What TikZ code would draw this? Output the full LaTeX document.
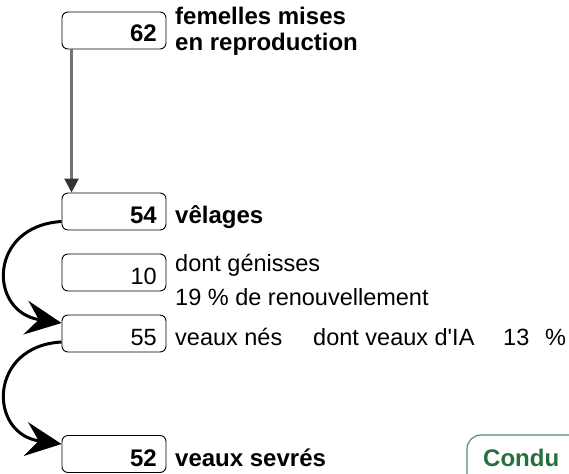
\documentclass[tikz,border=0pt]{standalone}
\usepackage{fontspec}
\setmainfont{Liberation Sans}
\usetikzlibrary{arrows.meta}
\definecolor{condtext}{RGB}{38,112,62}
\definecolor{condline}{RGB}{80,145,100}
\tikzset{
  box/.style={draw=black, line width=0.9pt, rounded corners=6pt, minimum width=104pt, minimum height=37pt, inner sep=0pt, fill=white},
  numb/.style={anchor=base east, inner sep=0pt, font=\fontsize{24}{27}\selectfont\bfseries},
  numr/.style={anchor=base east, inner sep=0pt, font=\fontsize{23.5}{26}\selectfont},
  lblb/.style={anchor=base west, inner sep=0pt, font=\fontsize{24}{27}\selectfont\bfseries},
  lblr/.style={anchor=base west, inner sep=0pt, font=\fontsize{23.5}{26}\selectfont},
  flow/.style={draw=black!55, line width=2.4pt, -{Triangle[width=14pt,length=14pt,color=black!80]}},
  curl/.style={draw=black, line width=3pt, -{Stealth[length=36pt,width=34pt,inset=13pt]}},
}
\begin{document}
\begin{tikzpicture}[x=1pt,y=-1pt]
\useasboundingbox (0,0) rectangle (569,473);
\fill[white] (0,0) rectangle (569,473);
\clip (0,0) rectangle (569,473);

% boxes
\node[box] (b62) at (114,30.5) {};
\node[box] (b54) at (114,211.5) {};
\node[box] (b10) at (114,272.5) {};
\node[box] (b55) at (114,333.5) {};
\node[box] (b52) at (114,454) {};

% numbers
\node[numb] (n62) at (157,42) {62};
\node[numb] (n54) at (157,223) {54};
\node[numr] (n10) at (157,284) {10};
\node[numr] (n55) at (157,345) {55};
\node[numb] (n52) at (157,466) {52};

% labels
\node[lblb] (l62a) at (175,25) {femelles mises};
\node[lblb] (l62b) at (175,51) {en reproduction};
\node[lblb] (l54) at (175,223) {vêlages};
\node[lblr] (l10a) at (175,271) {dont génisses};
\node[lblr] (l10b) at (175,305) {19 \% de renouvellement};
\node[lblr] (l55) at (175,345) {veaux nés};
\node[lblr] (l55b) at (313,345) {dont veaux d\textquotesingle IA};
\node[lblr] (l55c) at (503,345) {13};
\node[lblr] (l55d) at (545,345) {\%};
\node[lblb] (l52) at (175,466) {veaux sevrés};

% green box
\draw[condline, line width=1.2pt, rounded corners=14pt] (467,490) -- (467,435) -- (600,435);
\node[lblb, text=condtext] (cond) at (483,466) {Condu};

% connectors
\draw[flow] ([xshift=10pt]b62.south west) -- ([xshift=10pt]b54.north west);
\draw[curl] ([yshift=-10pt]b54.west) .. controls (-12,226) and (-12,312) .. ([yshift=10.5pt]b55.west);
\draw[curl] ([yshift=-8.5pt]b55.west) .. controls (-12,346) and (-12,434) .. ([yshift=10pt]b52.west);
\end{tikzpicture}
\end{document}
